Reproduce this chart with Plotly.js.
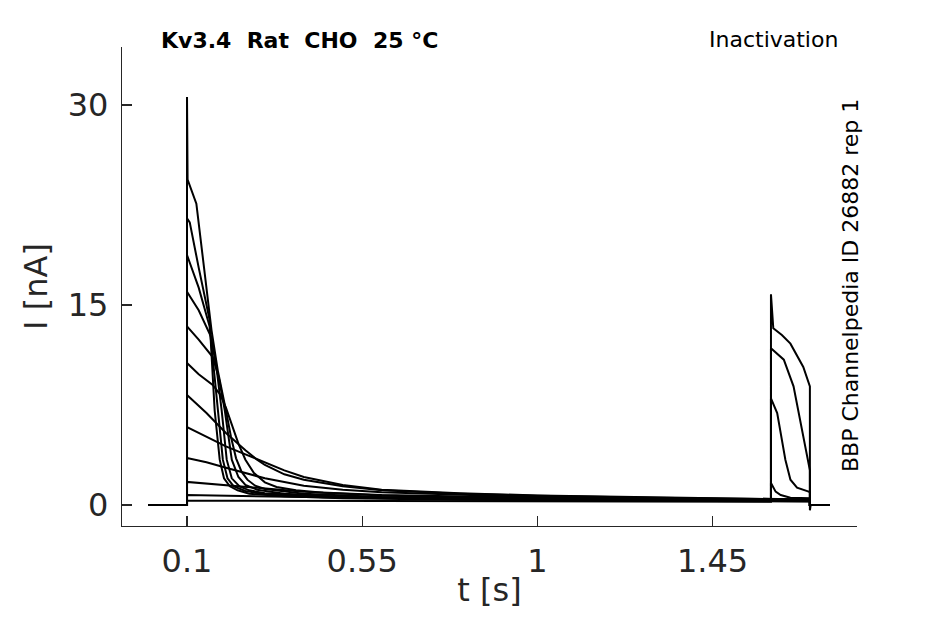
<!DOCTYPE html>
<html>
<head>
<meta charset="utf-8">
<script src="https://cdn.plot.ly/plotly-3.0.1.min.js"></script>
<style>
  body { margin: 0; background: #fff; }
  #myDiv { width: 945px; height: 624px; }
</style>
</head>
<body>
<div id="myDiv"></div>
<script>
// tick labels
let x_ticks = [0.1, 0.55, 1, 1.45];
let x_labels = ["0.1", "0.55", "1", "1.45"];
let y_ticks = [0, 15, 30];
let y_labels = ["0", "15", "30"];

// traces with a fast inactivation during the prepulse (t in s, I in nA)
let t_A = [0, 0.1, 0.1, 0.1015, 0.124, 0.1455, 0.163, 0.179, 0.19, 0.2, 0.213, 0.226, 0.24, 0.255, 0.275, 0.3, 0.4, 0.6, 1.0, 1.6, 1.7, 1.7, 1.75];
let i_A = [0, 0, 30.6, 24.4, 22.6, 17.6, 13.1, 10.1, 8.6, 7.1, 5.1, 3.5, 2.5, 1.9, 1.45, 1.2, 0.85, 0.6, 0.45, 0.33, 0.3, 0, 0];

let t_B = [0, 0.1, 0.1, 0.107, 0.13, 0.158, 0.171, 0.184, 0.195, 0.21, 0.23, 0.26, 0.35, 0.5, 0.8, 1.2, 1.6, 1.7, 1.7, 1.75];
let i_B = [0, 0, 21.5, 21.2, 17.8, 13.9, 7.1, 3.4, 2.0, 1.4, 1.1, 0.85, 0.65, 0.5, 0.4, 0.33, 0.28, 0.27, 0, 0];

let t_C = [0, 0.1, 0.1, 0.13, 0.158, 0.17, 0.179, 0.192, 0.204, 0.22, 0.25, 0.3, 0.45, 0.8, 1.2, 1.6, 1.7, 1.7, 1.75];
let i_C = [0, 0, 18.75, 16.3, 13.4, 10.0, 7.1, 3.4, 2.0, 1.4, 1.05, 0.8, 0.58, 0.43, 0.35, 0.3, 0.29, 0, 0];

let t_D = [0, 0.1, 0.1, 0.13, 0.162, 0.177, 0.189, 0.202, 0.215, 0.235, 0.26, 0.3, 0.45, 0.8, 1.2, 1.6, 1.7, 1.7, 1.75];
let i_D = [0, 0, 16.0, 14.6, 12.6, 10.0, 7.1, 3.4, 2.0, 1.4, 1.1, 0.88, 0.62, 0.45, 0.37, 0.32, 0.3, 0, 0];

let t_E = [0, 0.1, 0.1, 0.13, 0.166, 0.182, 0.197, 0.215, 0.232, 0.25, 0.28, 0.35, 0.5, 0.8, 1.2, 1.6, 1.7, 1.7, 1.75];
let i_E = [0, 0, 13.4, 12.4, 11.1, 9.5, 7.1, 3.4, 2.1, 1.5, 1.15, 0.85, 0.62, 0.47, 0.4, 0.34, 0.32, 0, 0];

let t_F = [0, 0.1, 0.1, 0.13, 0.166, 0.185, 0.2, 0.215, 0.232, 0.25, 0.272, 0.3, 0.33, 0.38, 0.45, 0.6, 0.8, 1.2, 1.6, 1.7, 1.7, 1.75];
let i_F = [0, 0, 10.65, 9.8, 9.0, 8.3, 7.3, 6.0, 4.6, 3.4, 2.4, 1.7, 1.35, 1.1, 0.92, 0.72, 0.57, 0.46, 0.38, 0.36, 0, 0];

// traces with a slow decay during the prepulse
let t_G1 = [0, 0.1, 0.1, 0.15, 0.2, 0.25, 0.28, 0.3, 0.35, 0.4, 0.5, 0.6, 0.8, 1.0, 1.3, 1.6, 1.7, 1.7, 1.75];
let i_G1 = [0, 0, 8.25, 6.9, 5.4, 4.1, 3.4, 3.0, 2.3, 1.9, 1.4, 1.1, 0.85, 0.7, 0.55, 0.45, 0.42, 0, 0];

let t_G2 = [0, 0.1, 0.1, 0.15, 0.2, 0.25, 0.3, 0.35, 0.4, 0.5, 0.6, 0.8, 1.0, 1.3, 1.6, 1.7, 1.7, 1.75];
let i_G2 = [0, 0, 5.85, 5.1, 4.4, 3.8, 3.2, 2.6, 2.1, 1.5, 1.15, 0.88, 0.72, 0.56, 0.45, 0.42, 0, 0];

// slow traces that still give a current in the test pulse
let t_G3 = [0, 0.1, 0.1, 0.15, 0.2, 0.3, 0.4, 0.5, 0.6, 0.8, 1.0, 1.3, 1.6, 1.6, 1.612, 1.625, 1.65, 1.7, 1.7, 1.75];
let i_G3 = [0, 0, 3.53, 3.2, 2.8, 2.0, 1.45, 1.15, 0.95, 0.75, 0.6, 0.5, 0.4, 1.65, 1.0, 0.75, 0.55, 0.5, 0, 0];

let t_G4 = [0, 0.1, 0.1, 0.15, 0.2, 0.3, 0.4, 0.6, 1.0, 1.6, 1.6, 1.616, 1.628, 1.637, 1.65, 1.667, 1.697, 1.7, 1.7, 1.75];
let i_G4 = [0, 0, 1.73, 1.6, 1.5, 1.25, 1.0, 0.75, 0.55, 0.4, 8.0, 6.9, 4.9, 3.4, 1.9, 1.3, 1.0, 0.95, 0, 0];

let t_G5 = [0, 0.1, 0.1, 0.2, 0.4, 0.8, 1.6, 1.6, 1.61, 1.633, 1.658, 1.675, 1.693, 1.7, 1.7, 1.75];
let i_G5 = [0, 0, 0.75, 0.7, 0.6, 0.5, 0.4, 11.75, 11.5, 10.9, 8.9, 6.4, 3.6, 2.6, 0, 0];

let t_G6 = [0, 0.1, 0.1, 0.5, 1.0, 1.6, 1.6, 1.606, 1.628, 1.65, 1.683, 1.696, 1.7, 1.7, 1.702, 1.75];
let i_G6 = [0, 0, 0.32, 0.3, 0.28, 0.25, 15.8, 13.25, 12.75, 12.1, 10.35, 9.1, 8.9, -0.4, 0, 0];

let series = [
  [t_A, i_A], [t_B, i_B], [t_C, i_C], [t_D, i_D], [t_E, i_E], [t_F, i_F],
  [t_G1, i_G1], [t_G2, i_G2], [t_G3, i_G3], [t_G4, i_G4], [t_G5, i_G5], [t_G6, i_G6]
];

function inactivationChart() {
  let data = [];
  for (let s of series) {
    data.push({
      x: s[0],
      y: s[1],
      type: 'scatter',
      mode: 'lines',
      line: {color: '#000000', width: 2},
      hoverinfo: 'skip',
      showlegend: false
    });
  }

  let axisFont = {family: 'DejaVu Sans', size: 32, color: '#262626'};
  let noteFont = {family: 'DejaVu Sans', size: 22, color: '#000000'};

  let layout = {
    width: 945,
    height: 624,
    margin: {l: 122, r: 88, t: 47, b: 98},
    paper_bgcolor: '#ffffff',
    plot_bgcolor: '#ffffff',
    showlegend: false,
    font: {family: 'DejaVu Sans', color: '#262626'},
    xaxis: {
      range: [-0.067, 1.821],
      tickvals: x_ticks,
      ticktext: x_labels,
      ticks: 'inside',
      ticklen: 10,
      tickwidth: 1.2,
      tickcolor: '#262626',
      showline: true,
      linecolor: '#262626',
      linewidth: 1.2,
      showgrid: false,
      zeroline: false,
      tickfont: axisFont,
      ticklabelstandoff: 6,
      title: {text: 't [s]', font: axisFont, standoff: 0}
    },
    yaxis: {
      range: [-1.575, 34.35],
      tickvals: y_ticks,
      ticktext: y_labels,
      ticks: 'inside',
      ticklen: 10,
      tickwidth: 1.2,
      tickcolor: '#262626',
      showline: true,
      linecolor: '#262626',
      linewidth: 1.2,
      showgrid: false,
      zeroline: false,
      tickfont: axisFont,
      ticklabelstandoff: 6,
      title: {text: 'I [nA]', font: axisFont, standoff: 10}
    },
    annotations: [
      {
        text: '<b>Kv3.4  Rat  CHO  25 °C</b>',
        xref: 'paper', yref: 'paper', x: 0.0503, y: 1.0146,
        xanchor: 'left', yanchor: 'middle', showarrow: false,
        font: noteFont
      },
      {
        text: 'Inactivation',
        xref: 'paper', yref: 'paper', x: 0.977, y: 1.0167,
        xanchor: 'right', yanchor: 'middle', showarrow: false,
        font: noteFont
      },
      {
        text: 'BBP Channelpedia ID 26882 rep 1',
        xref: 'paper', yref: 'paper', x: 0.9905, y: 0.501,
        xanchor: 'center', yanchor: 'middle', showarrow: false, textangle: -90,
        font: noteFont
      }
    ]
  };

  Plotly.newPlot('myDiv', data, layout, {staticPlot: true});
}

(function() {
  inactivationChart();
})();
</script>
</body>
</html>
